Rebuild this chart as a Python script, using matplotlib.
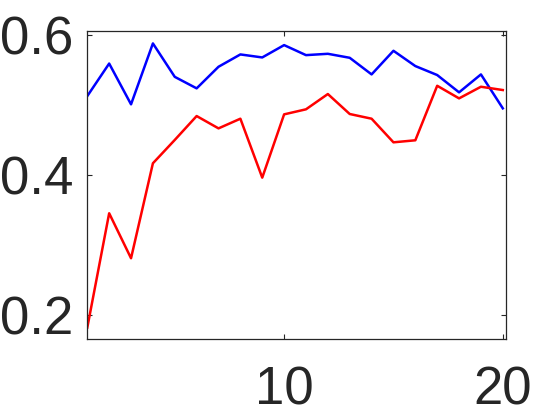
import matplotlib
matplotlib.use("Agg")
import matplotlib.pyplot as plt

x = list(range(1, 21))
blue_vals = [0.5126, 0.559, 0.5008, 0.5877, 0.540, 0.5236, 0.5544, 0.572, 0.5677, 0.5853,
             0.571, 0.5729, 0.5672, 0.5435, 0.5772, 0.5554, 0.5426, 0.5179, 0.5435, 0.4951]
red_vals = [0.1823, 0.3454, 0.2812, 0.4167, 0.450, 0.4841, 0.4665, 0.4803, 0.3962, 0.4865,
            0.4937, 0.5155, 0.4870, 0.4803, 0.4466, 0.4495, 0.5273, 0.5093, 0.5259, 0.5212]
xticks = [10, 20]
yticks = [0.2, 0.4, 0.6]

plt.rcParams['font.family'] = ['Liberation Sans', 'DejaVu Sans']
fig = plt.figure(figsize=(5.6, 4.2), dpi=100)
ax = fig.add_axes([87.3/560, 1 - 339/420, (506.3-87.3)/560, (339-31.3)/420])

ax.plot(x, blue_vals, color='#0000ff', linewidth=1.8)
ax.plot(x, red_vals, color='#ff0000', linewidth=1.8)

ax.set_xlim(1, 20.16)
ax.set_ylim(0.166, 0.605)
ax.set_xticks(xticks)
ax.set_yticks(yticks)
ax.set_xticklabels([str(v) for v in xticks])
ax.set_yticklabels(['0.2', '0.4', '0.6'])
for s in ax.spines.values():
    s.set_color('#262626')
    s.set_linewidth(0.9)
ax.tick_params(direction='in', length=3.5, width=0.8, colors='#262626',
               labelsize=38, top=True, right=True)
ax.tick_params(axis='x', pad=19)
ax.tick_params(axis='y', pad=10)

fig.savefig('out.png', dpi=100)
